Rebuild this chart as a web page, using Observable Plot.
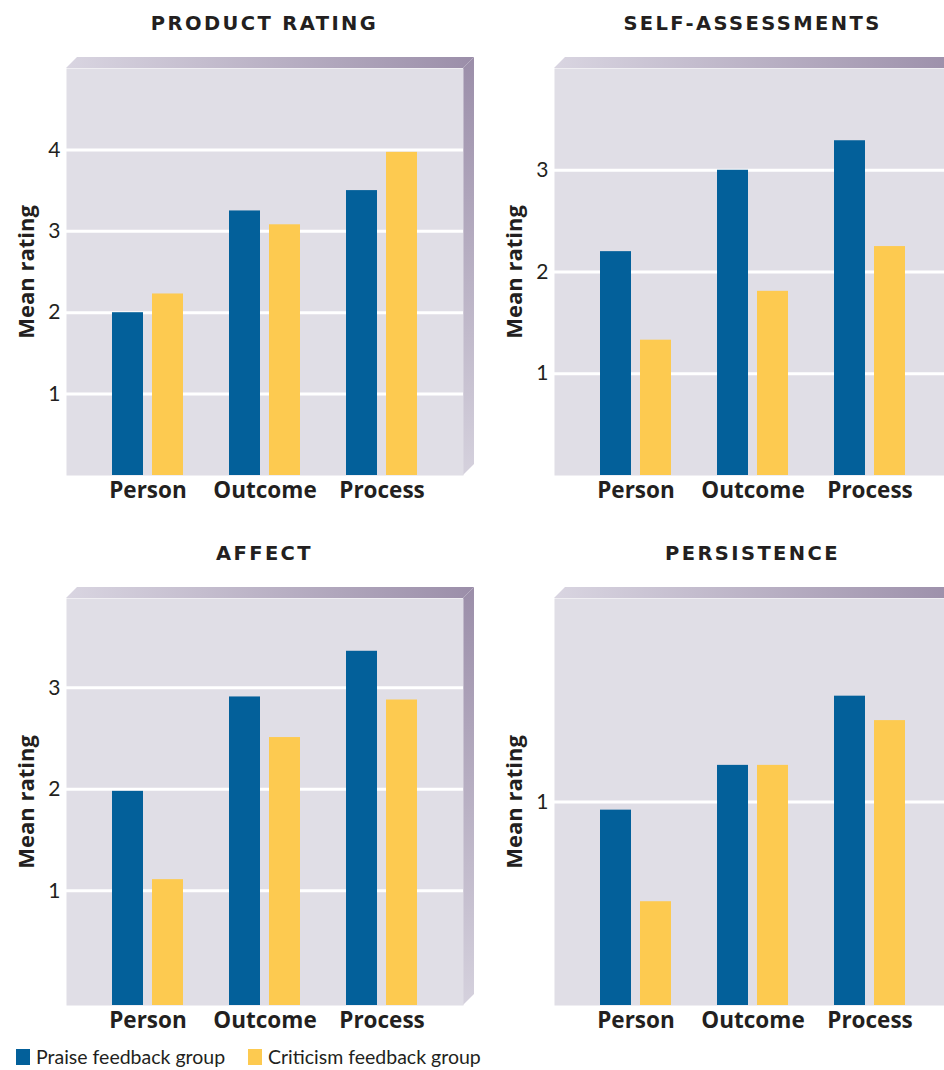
<!DOCTYPE html>
<html>
<head>
<meta charset="utf-8">
<script src="https://cdn.jsdelivr.net/npm/d3@7"></script>
<script src="https://cdn.jsdelivr.net/npm/@observablehq/plot@0.6"></script>
<style>
  html, body { margin: 0; padding: 0; background: #fff; width: 944px; height: 1070px; overflow: hidden; }
  .panel { position: absolute; width: 488px; height: 520px; }
  .panel svg { position: absolute; left: 0; top: 0; overflow: visible; }
  .title {
    position: absolute; top: 14px; left: 66px; width: 397px; text-align: center;
    font-family: "DejaVu Sans", sans-serif; font-weight: 700; font-size: 19.5px;
    letter-spacing: 2.4px; color: #231f20; line-height: 1; white-space: nowrap;
  }
  .legend-item {
    position: absolute; top: 1047px; display: flex; align-items: center;
    font-family: Lato, sans-serif; font-size: 19.5px; color: #231f20; line-height: 1;
  }
  .swatch { width: 14px; height: 16px; margin-right: 6px; }
</style>
</head>
<body>
<div id="root"></div>
<script>
// Categories and groups
const categories = ["Person", "Outcome", "Process"];
const groups = ["Praise feedback group", "Criticism feedback group"];
const groupColors = ["#03609a", "#fdca50"];

// Panel titles
const titles = ["PRODUCT RATING", "SELF-ASSESSMENTS", "AFFECT", "PERSISTENCE"];

// Mean ratings per category (Person, Outcome, Process)
const productPraise = [2.0, 3.25, 3.5];
const productCriticism = [2.23, 3.08, 3.97];
const selfPraise = [2.2, 3.0, 3.29];
const selfCriticism = [1.33, 1.81, 2.25];
const affectPraise = [1.98, 2.91, 3.36];
const affectCriticism = [1.11, 2.51, 2.88];
const persistPraise = [0.96, 1.18, 1.52];
const persistCriticism = [0.51, 1.18, 1.40];

// Tick labels per panel
const productTicks = [1, 2, 3, 4];
const selfTicks = [1, 2, 3];
const affectTicks = [1, 2, 3];
const persistTicks = [1];

// Value axis extents per panel
const productDomain = [0, 5];
const selfDomain = [0, 4];
const affectDomain = [-0.13, 3.88];
const persistDomain = [0, 2];

const panels = [
  {title: titles[0], praise: productPraise, criticism: productCriticism, ticks: productTicks, domain: productDomain, left: 0, top: 0},
  {title: titles[1], praise: selfPraise, criticism: selfCriticism, ticks: selfTicks, domain: selfDomain, left: 488, top: 0},
  {title: titles[2], praise: affectPraise, criticism: affectCriticism, ticks: affectTicks, domain: affectDomain, left: 0, top: 530},
  {title: titles[3], praise: persistPraise, criticism: persistCriticism, ticks: persistTicks, domain: persistDomain, left: 488, top: 530}
];

const W = 488, H = 510;
const M = {left: 66, right: 25, top: 68, bottom: 35};
const depth = 11;
const ink = "#231f20";

const root = document.getElementById("root");

panels.forEach((p, i) => {
  const rows = [];
  categories.forEach((c, j) => {
    rows.push({category: c, group: groups[0], value: p.praise[j]});
    rows.push({category: c, group: groups[1], value: p.criticism[j]});
  });
  const base = p.domain[0];

  const svg = Plot.plot({
    width: W,
    height: H,
    marginLeft: M.left,
    marginRight: M.right,
    marginTop: M.top,
    marginBottom: M.bottom,
    style: {background: "transparent", color: ink, overflow: "visible"},
    x: {domain: categories, paddingInner: 0.39, paddingOuter: 0.38},
    y: {domain: p.domain},
    color: {domain: groups, range: groupColors},
    marks: [
      Plot.frame({fill: "#e0dee6", stroke: "none"}),
      Plot.ruleY(p.ticks, {stroke: "#ffffff", strokeWidth: 3}),
      Plot.barY(rows.filter(d => d.group === groups[0]), {
        x: "category", y1: base, y2: "value", fill: "group", insetRight: 40
      }),
      Plot.barY(rows.filter(d => d.group === groups[1]), {
        x: "category", y1: base, y2: "value", fill: "group", insetLeft: 40
      }),
      Plot.axisY({ticks: p.ticks, tickFormat: d3.format("d"), tickSize: 0, tickPadding: 6, label: null,
        fontSize: 21, fontFamily: "Lato", fill: ink}),
      Plot.axisX({tickSize: 0, tickPadding: 7, label: null,
        fontSize: 22.5, fontWeight: "bold", fontFamily: "Open Sans", fill: ink}),
      Plot.text(["Mean rating"], {frameAnchor: "left", textAnchor: "middle", rotate: -90, dx: -40,
        fontSize: 22, fontWeight: "bold", fontFamily: "Open Sans", fill: ink})
    ]
  });

  // Bevelled top and right edges of the backdrop
  const L = M.left, R = W - M.right, T = M.top, B = H - M.bottom;
  const s = d3.select(svg);
  const defs = s.insert("defs", ":first-child");
  const topId = `topEdge${i}`, sideId = `sideEdge${i}`;
  const gTop = defs.append("linearGradient").attr("id", topId)
    .attr("gradientUnits", "userSpaceOnUse")
    .attr("x1", L).attr("y1", 0).attr("x2", R + depth).attr("y2", 0);
  gTop.append("stop").attr("offset", 0).attr("stop-color", "#d9d5e1");
  gTop.append("stop").attr("offset", 1).attr("stop-color", "#9b8ea9");
  const gSide = defs.append("linearGradient").attr("id", sideId)
    .attr("gradientUnits", "userSpaceOnUse")
    .attr("x1", 0).attr("y1", T - depth).attr("x2", 0).attr("y2", B);
  gSide.append("stop").attr("offset", 0).attr("stop-color", "#9b8ea9");
  gSide.append("stop").attr("offset", 1).attr("stop-color", "#d5d1dd");
  const edges = s.insert("g", "defs + *");
  edges.append("polygon")
    .attr("points", [[L, T], [L + depth, T - depth], [R + depth, T - depth], [R, T]].join(" "))
    .attr("fill", `url(#${topId})`);
  edges.append("polygon")
    .attr("points", [[R, T], [R + depth, T - depth], [R + depth, B - depth], [R, B]].join(" "))
    .attr("fill", `url(#${sideId})`);

  const panel = document.createElement("div");
  panel.className = "panel";
  panel.style.left = p.left + "px";
  panel.style.top = p.top + "px";
  const title = document.createElement("div");
  title.className = "title";
  title.textContent = p.title;
  panel.appendChild(svg);
  panel.appendChild(title);
  root.appendChild(panel);
});

// Legend
const legendLeft = [16, 248];
groups.forEach((g, k) => {
  const item = document.createElement("div");
  item.className = "legend-item";
  item.style.left = legendLeft[k] + "px";
  const sw = document.createElement("div");
  sw.className = "swatch";
  sw.style.background = groupColors[k];
  const label = document.createElement("span");
  label.textContent = g;
  item.appendChild(sw);
  item.appendChild(label);
  root.appendChild(item);
});
</script>
</body>
</html>
